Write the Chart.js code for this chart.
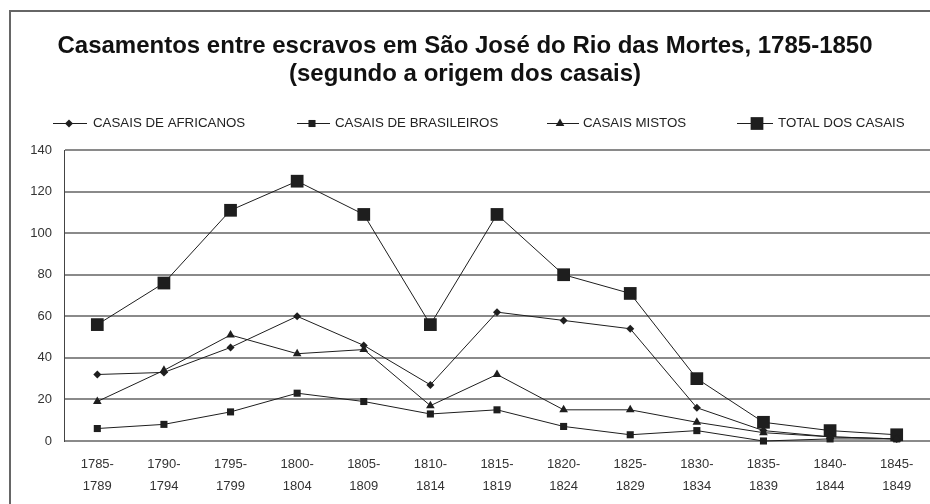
<!DOCTYPE html>
<html>
<head>
<meta charset="utf-8">
<script src="https://cdn.jsdelivr.net/npm/chart.js@4/dist/chart.umd.min.js"></script>
<style>
  html, body { margin: 0; padding: 0; background: #fff; overflow: hidden; }
  #wrap { position: relative; width: 930px; height: 504px; overflow: hidden; }
  #frame { position: absolute; left: 9px; top: 10px; width: 2000px; height: 2000px;
           border-left: 2px solid #666; border-top: 2px solid #666; box-sizing: border-box; }
  canvas { position: absolute; left: 0; top: 0; }
</style>
</head>
<body>
<div id="wrap">
  <div id="frame"></div>
  <canvas id="c" width="930" height="504"></canvas>
</div>
<script>
const periods = [
  ['1785-','1789'], ['1790-','1794'], ['1795-','1799'], ['1800-','1804'],
  ['1805-','1809'], ['1810-','1814'], ['1815-','1819'], ['1820-','1824'],
  ['1825-','1829'], ['1830-','1834'], ['1835-','1839'], ['1840-','1844'],
  ['1845-','1849']
];
const africanos   = [32, 33, 45, 60, 46, 27, 62, 58, 54, 16, 5, 2, 1];
const brasileiros = [6, 8, 14, 23, 19, 13, 15, 7, 3, 5, 0, 1, 1];
const mistos      = [19, 34, 51, 42, 44, 17, 32, 15, 15, 9, 4, 2, 1];
const total       = [56, 76, 111, 125, 109, 56, 109, 80, 71, 30, 9, 5, 3];
const seriesNames = ['CASAIS DE AFRICANOS', 'CASAIS DE BRASILEIROS', 'CASAIS MISTOS', 'TOTAL DOS CASAIS'];
const titleLines  = ['Casamentos entre escravos em São José do Rio das Mortes, 1785-1850', '(segundo a origem dos casais)'];

const FONT = '"Liberation Sans", Arial, Helvetica, sans-serif';
const INK = '#1e1e1e';

function ds(label, data, style, radius) {
  return {
    label, data,
    borderColor: INK, borderWidth: 1,
    backgroundColor: INK,
    pointStyle: style, pointRadius: radius, pointHoverRadius: radius,
    pointBackgroundColor: INK, pointBorderColor: INK, pointBorderWidth: 0,
    tension: 0, fill: false, clip: 12
  };
}

const legendPos = [
  { x1: 53, x2: 87, mx: 69, tx: 93 },
  { x1: 297, x2: 330, mx: 312, tx: 335 },
  { x1: 547, x2: 579, mx: 560, tx: 583 },
  { x1: 737, x2: 773, mx: 757, tx: 778 }
];

const customLegend = {
  id: 'customLegend',
  afterDraw(chart) {
    const ctx = chart.ctx;
    const y = 123;
    ctx.save();
    chart.data.datasets.forEach((d, i) => {
      const p = legendPos[i];
      ctx.strokeStyle = INK;
      ctx.lineWidth = 1;
      ctx.beginPath();
      ctx.moveTo(p.x1, y + 0.5);
      ctx.lineTo(p.x2, y + 0.5);
      ctx.stroke();
      ctx.fillStyle = INK;
      Chart.helpers.drawPoint(ctx, { pointStyle: d.pointStyle, radius: d.pointRadius, borderWidth: 0, rotation: 0 }, p.mx, y + 0.5);
      ctx.fillStyle = '#222';
      ctx.font = '13.3px ' + FONT;
      ctx.textBaseline = 'middle';
      ctx.textAlign = 'left';
      ctx.fillText(d.label, p.tx, y + 0.5);
    });
    ctx.restore();
  }
};

new Chart(document.getElementById('c'), {
  type: 'line',
  data: {
    labels: periods,
    datasets: [
      ds(seriesNames[0], africanos, 'rectRot', 4),
      ds(seriesNames[1], brasileiros, 'rect', 5),
      ds(seriesNames[2], mistos, 'triangle', 5),
      ds(seriesNames[3], total, 'rect', 9)
    ]
  },
  options: {
    responsive: false,
    animation: false,
    layout: { autoPadding: false, padding: { left: 0, right: 0, top: 0, bottom: 0 } },
    plugins: {
      legend: { display: false },
      tooltip: { enabled: false },
      title: {
        display: true,
        text: titleLines,
        color: '#111',
        font: { family: FONT, size: 24, weight: 'bold', lineHeight: 1.167 },
        padding: { top: 32, bottom: 62 }
      }
    },
    scales: {
      x: {
        offset: true,
        grid: { display: false, drawTicks: false },
        border: { display: false },
        ticks: {
          color: '#333',
          font: { family: FONT, size: 13, lineHeight: 1.7 },
          padding: 12,
          maxRotation: 0, autoSkip: false
        },
        afterFit(scale) { scale.height = 63; scale.paddingRight = 0; scale.paddingLeft = 0; }
      },
      y: {
        min: 0, max: 140,
        grid: { color: '#8a8a8a', lineWidth: 2, drawTicks: false },
        border: { display: true, color: '#444', width: 1 },
        ticks: {
          stepSize: 20,
          color: '#333',
          font: { family: FONT, size: 13 },
          padding: 12
        },
        afterFit(scale) { scale.width = 64; }
      }
    }
  },
  plugins: [customLegend]
});
</script>
</body>
</html>
